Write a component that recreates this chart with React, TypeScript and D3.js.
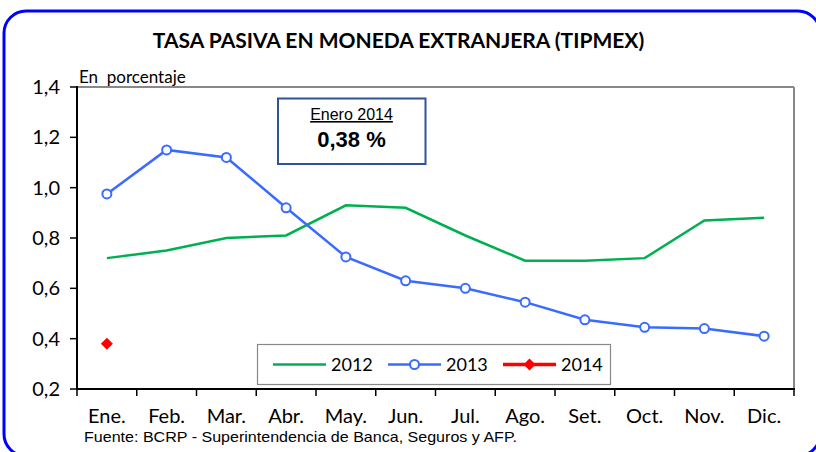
import React from "react";
import * as d3 from "d3";

const months = ["Ene.", "Feb.", "Mar.", "Abr.", "May.", "Jun.", "Jul.", "Ago.", "Set.", "Oct.", "Nov.", "Dic."];
const s2012 = [0.72, 0.75, 0.8, 0.81, 0.93, 0.92, 0.81, 0.71, 0.71, 0.72, 0.87, 0.88];
const s2013 = [0.975, 1.15, 1.12, 0.92, 0.725, 0.63, 0.6, 0.545, 0.475, 0.445, 0.44, 0.41];
const s2014 = [0.38];
const yTicks = [0.2, 0.4, 0.6, 0.8, 1.0, 1.2, 1.4];
const seriesNames = ["2012", "2013", "2014"];

const GREEN = "#00B050";
const BLUE = "#3A6BFF";
const RED = "#FF0000";
const CAL = "Lato, 'Open Sans', sans-serif";
const ARIAL = "'Liberation Sans', Arial, sans-serif";

export default function App() {
  const W = 816, H = 452;
  const left = 77, right = 794, top = 87, bottom = 389;
  const x = d3.scaleBand<string>().domain(months).range([left, right]);
  const y = d3.scaleLinear().domain([0.2, 1.4]).range([bottom, top]);
  const cx = (i: number) => (x(months[i]) as number) + x.bandwidth() / 2;
  const line = d3.line<number>().x((_, i) => cx(i)).y((d) => y(d));
  const fmt = (v: number) => v.toFixed(1).replace(".", ",");
  const bounds = d3.range(months.length + 1).map((i) => left + i * x.bandwidth());

  const lgY = 364.5;
  return (
    <svg width={W} height={H} style={{ position: "absolute", left: 0, top: 0 }}>
      <rect x={0} y={0} width={W} height={H} fill="#fff" />
      <rect x={4} y={11} width={816} height={445} rx={22} ry={22} fill="none" stroke="#0000FF" strokeWidth={3} />
      <text x={398.5} y={48} textAnchor="middle" fontFamily={CAL} fontWeight="bold" fontSize={21} fill="#000">
        TASA PASIVA EN MONEDA EXTRANJERA (TIPMEX)
      </text>
      <text x={79} y={83} fontFamily={CAL} fontSize={17} fill="#000">{"En\u00a0 porcentaje"}</text>

      {/* plot frame */}
      <line x1={left} y1={top} x2={right} y2={top} stroke="#888" strokeWidth={2} />
      <line x1={right} y1={top} x2={right} y2={bottom} stroke="#888" strokeWidth={2} />
      <line x1={left} y1={top - 1} x2={left} y2={bottom} stroke="#000" strokeWidth={2} />
      <line x1={left - 1} y1={bottom} x2={right + 1} y2={bottom} stroke="#000" strokeWidth={2} />
      {yTicks.map((t) => (
        <g key={t}>
          <line x1={70} x2={left} y1={y(t)} y2={y(t)} stroke="#000" strokeWidth={1.5} />
          <text x={60} y={y(t) + 7} textAnchor="end" fontFamily={CAL} fontSize={20} fill="#000">{fmt(t)}</text>
        </g>
      ))}
      {bounds.map((b, i) => (
        <line key={i} x1={b} x2={b} y1={bottom} y2={bottom + 7} stroke="#000" strokeWidth={1.5} />
      ))}
      {months.map((m, i) => (
        <text key={m} x={cx(i)} y={423} textAnchor="middle" fontFamily={CAL} fontSize={20} fill="#000">{m}</text>
      ))}

      {/* info box */}
      <rect x={278} y={98.5} width={147.5} height={65.5} fill="#fff" stroke="#2F5597" strokeWidth={2} />
      <text x={351.5} y={120} textAnchor="middle" fontFamily={ARIAL} fontSize={16} fill="#000" textDecoration="underline">Enero 2014</text>
      <text x={351.5} y={147} textAnchor="middle" fontFamily={ARIAL} fontWeight="bold" fontSize={22} fill="#000">0,38 %</text>

      {/* series */}
      <path d={line(s2012) as string} fill="none" stroke={GREEN} strokeWidth={2.5} />
      <path d={line(s2013) as string} fill="none" stroke={BLUE} strokeWidth={2.5} />
      {s2013.map((v, i) => (
        <circle key={i} cx={cx(i)} cy={y(v)} r={4.5} fill="#fff" stroke={BLUE} strokeWidth={2} />
      ))}
      {s2014.map((v, i) => (
        <path key={i} d={`M${cx(i)},${y(v) - 6}L${cx(i) + 6},${y(v)}L${cx(i)},${y(v) + 6}L${cx(i) - 6},${y(v)}Z`} fill={RED} />
      ))}

      {/* legend */}
      <rect x={257.5} y={344.5} width={353} height={40} fill="#fff" stroke="#888" strokeWidth={1.2} />
      <line x1={273} x2={326} y1={lgY} y2={lgY} stroke={GREEN} strokeWidth={2.5} />
      <text x={331} y={371} fontFamily={CAL} fontSize={18} fill="#000">{seriesNames[0]}</text>
      <line x1={388} x2={441} y1={lgY} y2={lgY} stroke={BLUE} strokeWidth={2.5} />
      <circle cx={414.5} cy={lgY} r={4.5} fill="#fff" stroke={BLUE} strokeWidth={2} />
      <text x={446} y={371} fontFamily={CAL} fontSize={18} fill="#000">{seriesNames[1]}</text>
      <line x1={503} x2={556} y1={lgY} y2={lgY} stroke={RED} strokeWidth={3.5} />
      <path d={`M529.5,${lgY - 6}L535.5,${lgY}L529.5,${lgY + 6}L523.5,${lgY}Z`} fill={RED} />
      <text x={561} y={371} fontFamily={CAL} fontSize={18} fill="#000">{seriesNames[2]}</text>

      <text x={84} y={441.5} fontFamily={ARIAL} fontSize={15} fill="#000" textLength={433} lengthAdjust="spacingAndGlyphs">
        Fuente: BCRP - Superintendencia de Banca, Seguros y AFP.
      </text>
    </svg>
  );
}
